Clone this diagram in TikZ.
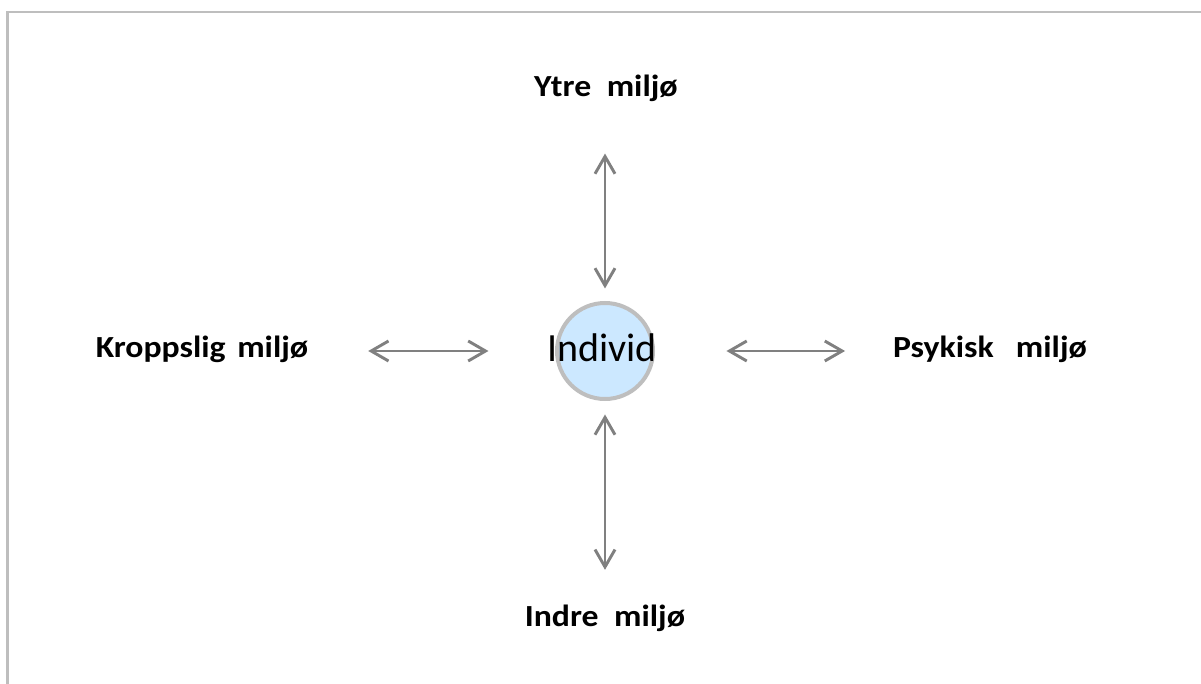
\documentclass[tikz,border=0pt]{standalone}
\usepackage{fontspec}
\setmainfont{Carlito}
\newfontfamily\labelfont[FakeStretch=1.1]{Carlito}
\usepackage{xcolor}
\usetikzlibrary{arrows.meta}
\definecolor{rammegra}{RGB}{190,190,190}
\definecolor{pilgra}{RGB}{128,128,128}
\definecolor{lysbla}{RGB}{204,232,255}

\begin{document}
\begin{tikzpicture}[x=0.75pt,y=-0.75pt,
    miljo/.style={font=\labelfont\bfseries\fontsize{23}{28}\selectfont, inner sep=0pt, outer sep=0pt, anchor=base},
    pil/.style={draw=pilgra, line width=2.2pt, {Straight Barb[length=13pt,width=15pt]}-{Straight Barb[length=13pt,width=15pt]}}]
        %RAMME
        \useasboundingbox (0,0) rectangle (1201,684);
        \draw[rammegra, line width=2.2pt] (7.5,684) -- (7.5,12) -- (1201,12);
        %SIRKEL
        \node[circle, draw=rammegra, line width=3pt, fill=lysbla, minimum size=96*0.75pt, inner sep=0pt, outer sep=0pt] (individ) at (605,351) {};
        \node[font=\fontsize{30}{36}\selectfont, inner sep=0pt, anchor=base] (individtekst) at (602,361) {Individ};
        %MILJO
        \node[miljo] (ytre) at (606,97) {Ytre\hspace{6pt} miljø};
        \node[miljo] (indre) at (605,626) {Indre\hspace{6pt} miljø};
        \node[miljo] (kropp) at (202,357) {Kroppslig\hspace{3pt} miljø};
        \node[miljo] (psyk) at (990,357) {Psykisk\hspace{11pt} miljø};
        %PILER
        \draw[pil, shorten <=45pt, shorten >=51.4pt] (kropp.east |- individ.west) -- (individ.west);
        \draw[pil, shorten <=55.1pt, shorten >=36pt] (individ.east) -- (psyk.west |- individ.east);
        \draw[pil, shorten <=38.5pt, shorten >=10.9pt] (ytre.south -| individ.north) -- (individ.north);
        \draw[pil, shorten <=11.6pt, shorten >=26pt] (individ.south) -- (indre.north -| individ.south);
\end{tikzpicture}
\end{document}
